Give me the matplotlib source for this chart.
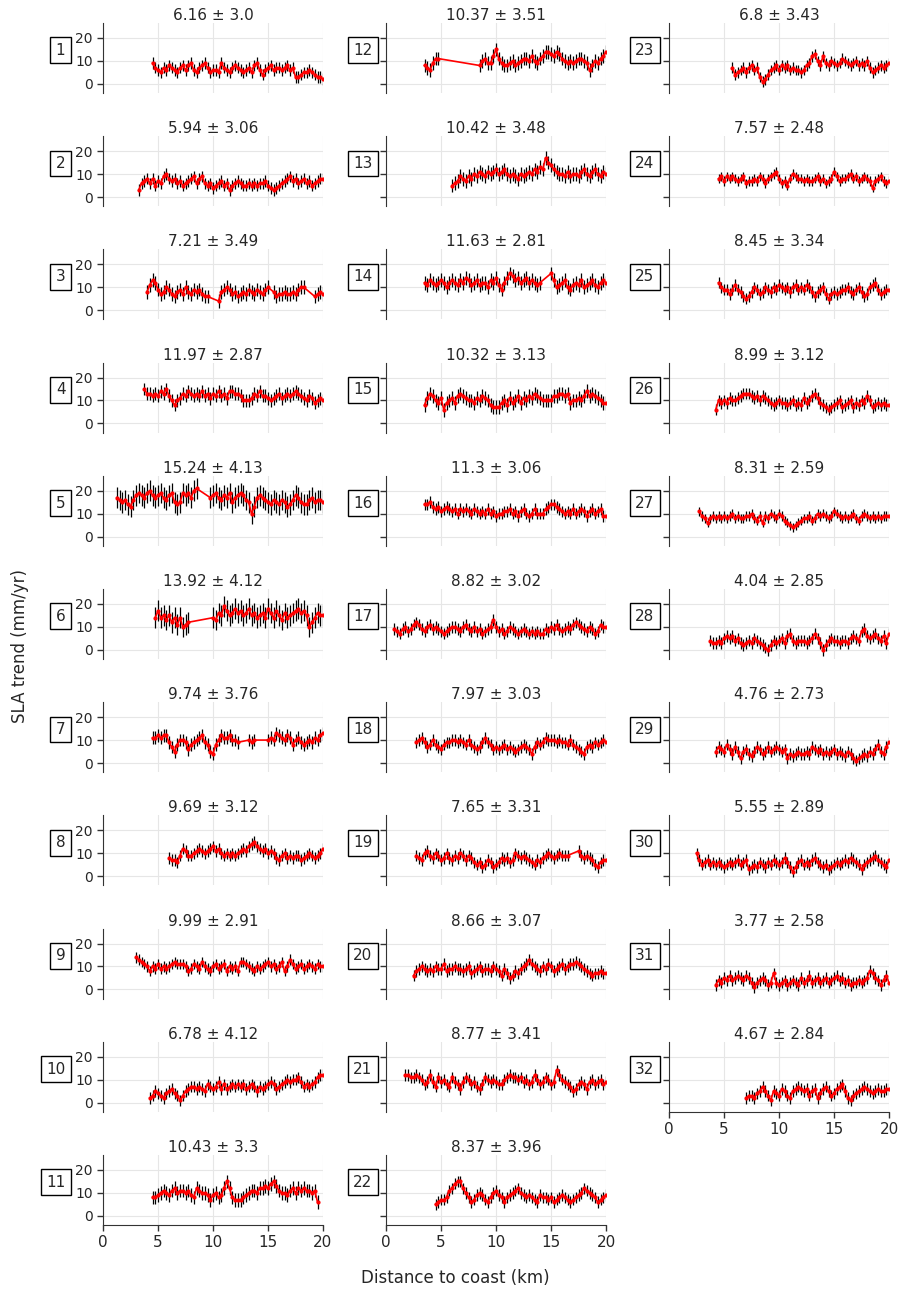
import numpy as np
import matplotlib
matplotlib.use('Agg')
import matplotlib.pyplot as plt

STEP = 0.25  # along-track spacing of the trend estimates (km)

# SLA trend profiles per track: runs of (first distance, values every STEP km)
runs_01 = [(4.5, [9, 7, 6, 5, 7, 6, 8, 7, 6, 5, 7, 8, 6, 8, 9, 6, 5, 7, 8, 9,
                  7, 5, 6, 6, 5, 9, 7, 6, 5, 7, 8, 7, 6, 5, 6, 7, 5, 8, 9, 6,
                  4, 6, 7, 8, 6, 7, 7, 6, 7, 8, 6, 7, 3, 3, 4, 5, 5, 6, 5, 4,
                  3, 3, 2])]
runs_02 = [(3.25, [3, 6, 7, 8, 6, 8, 5, 7, 6, 9, 10, 8, 7, 8, 6, 7, 5, 6, 7, 8,
                   9, 6, 8, 9, 6, 5, 6, 4, 5, 6, 7, 5, 6, 3, 5, 6, 7, 6, 5, 5,
                   6, 5, 6, 5, 6, 6, 7, 5, 4, 3, 4, 5, 6, 7, 8, 9, 7, 8, 6, 7,
                   8, 6, 7, 5, 6, 7, 8, 8])]
runs_03 = [(4.0, [8, 11, 13, 12, 9, 7, 8, 10, 9, 7, 6, 8, 9, 7, 10, 8, 7, 9, 8, 9,
                  7, 6, 6]),
           (10.5, [4, 8, 9, 10, 9, 7, 8, 6, 7, 8, 7, 9, 8, 7, 9, 8, 7, 9, 10]),
           (15.5, [8, 6, 7, 7, 8, 7, 7, 8, 7, 9, 10, 10]),
           (19.25, [6, 7, 8, 7])]
runs_04 = [(3.75, [15, 13, 13, 12, 13, 12, 14, 13, 15, 12, 10, 8, 10, 11, 13, 12,
                   14, 13, 12, 13, 12, 14, 12, 13, 11, 13, 12, 14, 12, 13, 11, 14,
                   14, 13, 13, 12, 10, 10, 10, 11, 13, 12, 14, 12, 12, 11, 10, 11,
                   12, 13, 11, 12, 13, 12, 13, 14, 13, 12, 11, 10, 12, 11, 9, 10,
                   11, 10])]
runs_05 = [(1.25, [17, 16, 15, 16, 14, 13, 16, 18, 19, 18, 17, 19, 20, 18, 17, 18,
                   19, 17, 16, 18, 19, 15, 14, 15, 19, 18, 19, 17, 20, 21]),
           (9.75, [17, 18, 19, 17, 16, 18, 17, 19, 15, 17, 18, 19, 18, 16, 15, 10,
                   13, 17, 18, 17, 16, 15, 14, 16, 15, 14, 16, 15, 13, 14, 16, 18,
                   17, 15, 14, 14, 16, 17, 15, 16, 16, 15])]
runs_06 = [(4.75, [14, 17, 14, 15, 13, 15, 12, 14, 11, 14, 10, 11, 12]),
           (10.0, [14, 13, 16, 15, 19, 17, 15, 16, 18, 16, 17, 15, 16, 18, 15, 16,
                   14, 15, 16, 14, 18, 16, 14, 17, 15, 13, 16, 14, 15, 16, 17, 18,
                   16, 17, 15, 10, 12, 14, 16, 15, 15])]
runs_07 = [(4.5, [11, 11, 12, 11, 12, 12, 9, 7, 5, 8, 10, 10, 9, 6, 8, 9, 10, 11,
                  12, 9, 8, 5, 4, 8, 10, 12, 11, 11, 12, 10, 10, 9]),
           (13.25, [10, 9, 10]),
           (15.0, [10, 11, 10, 13, 12, 11, 10, 12, 11, 8, 10, 11, 9, 8, 9, 10, 9,
                   11, 10, 12, 13])]
runs_08 = [(6.0, [8, 7, 7, 6, 9, 12, 11, 9, 9, 10, 11, 12, 11, 10, 11, 12, 13, 11,
                  12, 10, 9, 10, 9, 10, 9, 10, 11, 12, 11, 13, 14, 15, 13, 12, 11,
                  12, 10, 11, 10, 8, 7, 9, 10, 8, 9, 8, 9, 9, 7, 8, 9, 10, 9, 8, 9,
                  10, 12])]
runs_09 = [(3.0, [14, 13, 12, 11, 10, 8, 10, 9, 11, 9, 10, 9, 10, 11, 12, 11, 11,
                  11, 10, 8, 9, 11, 10, 9, 12, 10, 9, 8, 10, 11, 9, 10, 11, 8, 10,
                  9, 10, 8, 12, 12, 11, 10, 9, 8, 10, 9, 10, 11, 12, 10, 11, 9, 10,
                  12, 8, 10, 13, 11, 9, 10, 11, 9, 10, 11, 10, 9, 11, 10, 10])]
runs_10 = [(4.25, [2, 3, 5, 4, 3, 2, 4, 5, 6, 4, 3, 1, 3, 5, 6, 7, 7, 6, 7, 6, 5,
                   8, 7, 6, 7, 9, 6, 8, 6, 7, 8, 7, 8, 7, 8, 6, 7, 8, 7, 5, 7, 6,
                   7, 8, 9, 8, 6, 7, 8, 9, 10, 9, 10, 10, 11, 9, 7, 8, 7, 8, 9, 11,
                   12, 12])]
runs_11 = [(4.5, [8, 8, 9, 10, 11, 10, 9, 11, 12, 10, 11, 11, 10, 11, 9, 8, 12,
                  11, 10, 10, 9, 7, 9, 10, 8, 9, 12, 15, 12, 8, 7, 7, 7, 8, 9, 10,
                  11, 11, 10, 12, 12, 13, 12, 14, 15, 13, 11, 10, 10, 9, 11, 12, 10,
                  12, 11, 12, 11, 11, 10, 11, 6])]
runs_12 = [(3.5, [8, 7, 6, 9, 11, 11]),
           (8.5, [8, 10, 11, 9, 9, 12, 15, 11, 9, 8, 8, 9, 10, 8, 9, 10, 11, 11,
                  10, 12, 10, 9, 11, 12, 14, 14, 13, 12, 14, 13, 11, 10, 9, 10, 9,
                  10, 11, 11, 10, 9, 6, 8, 10, 9, 11, 12, 14])]
runs_13 = [(6.0, [5, 6, 7, 9, 8, 7, 9, 8, 10, 9, 11, 10, 9, 11, 10, 11, 12, 10, 11,
                  12, 10, 9, 10, 9, 8, 10, 9, 10, 11, 10, 12, 11, 13, 12, 17, 15,
                  14, 12, 11, 10, 10, 9, 11, 9, 10, 10, 9, 11, 12, 10, 9, 11, 12,
                  10, 9, 11, 10])]
runs_14 = [(3.5, [12, 11, 13, 12, 11, 12, 13, 12, 10, 12, 13, 12, 11, 13, 12, 14,
                  13, 11, 12, 13, 11, 12, 12, 10, 13, 12, 14, 11, 9, 12, 14, 16, 15,
                  13, 14, 12, 13, 14, 12, 13, 12, 11, 12]),
           (15.0, [16, 13, 10, 11, 12, 13, 10, 9, 11, 12, 11, 13, 10, 11, 12, 13,
                   11, 10, 12, 13, 12])]
runs_15 = [(3.5, [8, 11, 13, 12, 10, 9, 11, 6, 9, 10, 11, 9, 12, 13, 12, 11, 10,
                  10, 9, 11, 10, 12, 11, 10, 8, 7, 7, 7, 9, 10, 8, 11, 9, 10, 12, 9,
                  11, 10, 12, 11, 13, 12, 11, 10, 10, 10, 10, 12, 12, 13, 13, 12,
                  13, 9, 10, 10, 11, 10, 12, 14, 12, 13, 12, 11, 10, 9, 9])]
runs_16 = [(3.5, [14, 14, 15, 13, 12, 13, 11, 12, 13, 12, 11, 12, 10, 12, 11, 12,
                  11, 10, 12, 11, 10, 11, 10, 12, 10, 11, 9, 10, 10, 11, 11, 12, 10,
                  11, 9, 11, 12, 10, 9, 10, 12, 10, 10, 10, 12, 13, 14, 14, 13, 12,
                  11, 10, 11, 10, 12, 10, 11, 12, 11, 9, 11, 12, 10, 11, 12, 9, 9])]
runs_17 = [(0.75, [9, 8, 7, 9, 10, 8, 9, 11, 12, 11, 9, 8, 10, 11, 9, 10, 9, 8, 7,
                   8, 9, 10, 10, 9, 8, 10, 11, 9, 8, 10, 8, 9, 7, 8, 9, 10, 13, 10,
                   8, 9, 7, 8, 10, 9, 8, 7, 8, 9, 8, 7, 8, 7, 8, 7, 7, 9, 8, 10, 9,
                   11, 9, 8, 9, 10, 9, 11, 12, 11, 10, 9, 8, 10, 9, 7, 8, 11, 10,
                   10])]
runs_18 = [(2.75, [9, 10, 11, 9, 7, 8, 10, 8, 7, 6, 8, 9, 9, 10, 10, 9, 10, 9, 8,
                   10, 8, 7, 6, 7, 9, 11, 9, 8, 6, 7, 6, 7, 8, 6, 7, 6, 5, 6, 7, 8,
                   7, 6, 4, 7, 9, 8, 9, 11, 10, 10, 10, 9, 10, 9, 9, 8, 10, 8, 7, 6,
                   5, 4, 7, 8, 7, 9, 8, 9, 10, 9])]
runs_19 = [(2.75, [9, 8, 7, 10, 11, 9, 8, 10, 9, 7, 8, 10, 8, 7, 9, 8, 10, 9, 7,
                   9, 8, 6, 5, 6, 4, 5, 7, 6, 4, 5, 6, 8, 7, 8, 6, 7, 10, 9, 8, 9,
                   8, 7, 6, 5, 7, 6, 8, 9, 10, 9, 8, 9, 10, 9, 9, 9]),
           (17.5, [11, 9, 8, 9, 8, 7, 5, 4, 6, 7, 7])]
runs_20 = [(2.5, [6, 8, 9, 10, 9, 8, 9, 8, 10, 9, 9, 11, 8, 9, 9, 10, 9, 9, 8, 9,
                  10, 7, 8, 9, 10, 8, 9, 9, 8, 10, 9, 8, 6, 9, 7, 5, 6, 8, 7, 9,
                  10, 11, 13, 11, 10, 9, 8, 10, 9, 11, 10, 8, 9, 10, 11, 9, 10, 11,
                  11, 12, 11, 10, 9, 8, 7, 6, 7, 7, 8, 7, 7])]
runs_21 = [(1.75, [12, 12, 11, 11, 12, 11, 10, 8, 9, 12, 9, 7, 11, 9, 10, 8, 7,
                   11, 9, 8, 6, 9, 11, 10, 8, 9, 7, 6, 8, 11, 10, 9, 10, 9, 8, 8,
                   10, 11, 12, 11, 11, 10, 11, 9, 10, 8, 9, 12, 10, 8, 9, 11, 10, 8,
                   9, 14, 12, 10, 9, 8, 7, 5, 6, 8, 9, 8, 6, 9, 10, 8, 9, 10, 8,
                   9])]
runs_22 = [(4.5, [5, 6, 7, 7, 8, 11, 12, 14, 15, 15, 12, 10, 8, 6, 7, 9, 10, 9, 7,
                  6, 8, 10, 11, 9, 8, 6, 8, 9, 10, 11, 12, 10, 9, 8, 9, 8, 7, 6, 9,
                  8, 8, 7, 8, 6, 7, 8, 9, 8, 7, 6, 7, 8, 9, 10, 12, 11, 10, 9, 8,
                  6, 7, 8, 9])]
runs_23 = [(5.75, [7, 4, 5, 6, 7, 5, 7, 8, 6, 7, 3, 1, 2, 4, 6, 7, 8, 6, 8, 7, 8,
                   6, 7, 6, 6, 5, 6, 8, 9, 12, 13, 10, 8, 12, 9, 8, 10, 9, 8, 9,
                   11, 10, 9, 8, 9, 10, 8, 9, 8, 10, 7, 5, 6, 7, 8, 7, 8, 9])]
runs_24 = [(4.5, [8, 9, 7, 9, 8, 9, 8, 7, 8, 9, 6, 7, 7, 8, 7, 9, 8, 6, 8, 9, 10,
                  11, 8, 6, 7, 5, 8, 10, 9, 8, 8, 7, 8, 7, 7, 8, 9, 7, 8, 6, 7, 8,
                  11, 9, 7, 8, 8, 9, 10, 8, 9, 7, 8, 9, 8, 7, 4, 7, 8, 9, 7, 6,
                  7])]
runs_25 = [(4.5, [12, 10, 9, 9, 7, 9, 11, 9, 8, 6, 5, 6, 8, 10, 9, 7, 8, 10, 9, 8,
                  10, 9, 11, 10, 9, 10, 8, 10, 11, 9, 10, 9, 11, 10, 8, 6, 8, 9,
                  10, 7, 5, 7, 8, 7, 8, 9, 9, 10, 8, 7, 9, 10, 8, 6, 7, 10, 11, 12,
                  9, 7, 8, 9, 9])]
runs_26 = [(4.25, [6, 10, 9, 10, 9, 11, 10, 10, 11, 12, 13, 13, 13, 12, 11, 12, 10,
                   12, 11, 10, 9, 8, 9, 10, 9, 9, 8, 9, 10, 8, 9, 8, 11, 9, 10, 12,
                   13, 11, 9, 8, 7, 6, 7, 8, 9, 10, 7, 8, 9, 10, 7, 9, 8, 10, 9,
                   12, 10, 7, 8, 9, 8, 9, 8, 8])]
runs_27 = [(2.75, [11, 9, 8, 6, 8, 9, 8, 9, 8, 9, 8, 9, 10, 8, 9, 8, 8, 9, 9, 10,
                   8, 7, 9, 6, 9, 8, 10, 9, 8, 10, 9, 7, 6, 5, 4, 5, 6, 7, 8, 8, 9,
                   7, 8, 10, 9, 10, 9, 8, 9, 11, 10, 9, 8, 9, 8, 9, 10, 8, 7, 9,
                   10, 9, 8, 9, 8, 9, 8, 9, 9, 9])]
runs_28 = [(3.75, [4, 3, 3, 4, 3, 5, 6, 5, 6, 4, 5, 3, 2, 3, 4, 3, 5, 4, 3, 2, 1,
                   0, 2, 4, 3, 4, 5, 3, 6, 7, 4, 3, 4, 4, 4, 3, 4, 5, 7, 5, 3, 0,
                   2, 4, 5, 4, 4, 3, 4, 4, 3, 5, 6, 5, 4, 8, 9, 6, 5, 6, 7, 5, 4,
                   6, 3, 7])]
runs_29 = [(4.25, [5, 7, 6, 5, 8, 6, 4, 7, 5, 2, 5, 6, 4, 3, 5, 7, 6, 4, 5, 7, 5,
                   6, 7, 6, 5, 6, 2, 4, 3, 4, 5, 4, 4, 5, 4, 7, 6, 5, 6, 4, 5, 4,
                   5, 6, 4, 5, 4, 3, 5, 4, 2, 1, 2, 3, 4, 3, 5, 4, 6, 8, 5, 4, 7,
                   9])]
runs_30 = [(2.5, [10, 7, 5, 6, 7, 5, 6, 5, 6, 5, 4, 5, 6, 5, 6, 7, 5, 6, 7, 3, 4,
                  5, 4, 6, 5, 4, 6, 5, 7, 6, 5, 6, 8, 6, 4, 2, 4, 6, 7, 5, 6, 5, 7,
                  8, 6, 5, 4, 5, 3, 4, 5, 6, 5, 6, 7, 6, 8, 7, 6, 5, 3, 5, 6, 7, 8,
                  9, 7, 6, 5, 4, 7])]
runs_31 = [(4.25, [2, 4, 3, 5, 4, 6, 4, 5, 6, 5, 4, 6, 5, 3, 1, 3, 4, 5, 4, 2, 3,
                   7, 3, 2, 3, 4, 2, 3, 4, 3, 2, 5, 3, 4, 6, 3, 4, 5, 3, 4, 5, 3,
                   4, 5, 6, 4, 5, 3, 4, 2, 3, 3, 4, 3, 4, 5, 8, 7, 5, 4, 2, 4, 6,
                   3])]
runs_32 = [(7.0, [2, 3, 3, 2, 4, 5, 7, 5, 3, 1, 5, 4, 3, 6, 5, 3, 2, 5, 6, 7, 6,
                  5, 6, 3, 5, 6, 2, 4, 6, 7, 5, 3, 4, 6, 7, 8, 5, 2, 1, 3, 4, 5, 6,
                  7, 6, 5, 4, 5, 6, 5, 5, 6, 6])]

tracks = [runs_01, runs_02, runs_03, runs_04, runs_05, runs_06, runs_07, runs_08,
          runs_09, runs_10, runs_11, runs_12, runs_13, runs_14, runs_15, runs_16,
          runs_17, runs_18, runs_19, runs_20, runs_21, runs_22, runs_23, runs_24,
          runs_25, runs_26, runs_27, runs_28, runs_29, runs_30, runs_31, runs_32]

# per-track summary shown in the panel titles
trend_mean = [6.16, 5.94, 7.21, 11.97, 15.24, 13.92, 9.74, 9.69, 9.99, 6.78, 10.43,
              10.37, 10.42, 11.63, 10.32, 11.3, 8.82, 7.97, 7.65, 8.66, 8.77, 8.37,
              6.8, 7.57, 8.45, 8.99, 8.31, 4.04, 4.76, 5.55, 3.77, 4.67]
trend_sd = [3.0, 3.06, 3.49, 2.87, 4.13, 4.12, 3.76, 3.12, 2.91, 4.12, 3.3,
            3.51, 3.48, 2.81, 3.13, 3.06, 3.02, 3.03, 3.31, 3.07, 3.41, 3.96,
            3.43, 2.48, 3.34, 3.12, 2.59, 2.85, 2.73, 2.89, 2.58, 2.84]
# half-width of the trend uncertainty bars
err_half = [2.5, 2.5, 3.0, 2.8, 4.5, 4.5, 2.8, 2.5, 2.3, 2.5, 3.0,
            3.0, 3.0, 3.0, 3.0, 2.5, 2.5, 2.5, 2.5, 2.5, 2.5, 2.5,
            2.3, 2.0, 2.5, 2.5, 2.0, 2.5, 2.5, 2.5, 2.5, 2.5]

W, H = 901.0, 1292.0
col_left = [103, 386, 669]
label_x = [-0.171, -0.062, -0.066]

fig = plt.figure(figsize=(W / 100, H / 100), dpi=100)

for k, runs in enumerate(tracks):
    col, row = divmod(k, 11)
    top = 23 + row * 113.2
    ax = fig.add_axes([col_left[col] / W, 1 - (top + 70) / H, 220 / W, 70 / H])

    x = np.concatenate([x0 + STEP * np.arange(len(v)) for x0, v in runs])
    y = np.concatenate([np.asarray(v, dtype=float) for x0, v in runs])

    ax.errorbar(x, y, yerr=err_half[k], fmt='none', ecolor='black',
                elinewidth=0.9, zorder=2)
    ax.plot(x, y, color='red', lw=1.2, marker='o', ms=2, zorder=3)

    ax.set_xlim(0, 20)
    ax.set_ylim(-4, 26.5)
    ax.set_xticks([0, 5, 10, 15, 20])
    ax.set_yticks([0, 10, 20])
    ax.grid(True, color='#e6e6e6', lw=0.8)
    ax.set_axisbelow(True)
    for s in ['top', 'right']:
        ax.spines[s].set_visible(False)
    ax.spines['left'].set_color('#333333')
    ax.spines['bottom'].set_color('#333333')

    ax.tick_params(axis='y', length=4, width=1, color='#333333',
                   labelsize=10, labelcolor='#262626', labelleft=(col == 0))
    bottom = (row == 10) or (col == 2 and row == 9)
    if bottom:
        ax.tick_params(axis='x', length=4, width=1, color='#333333',
                       labelsize=11, labelcolor='#262626')
    else:
        ax.spines['bottom'].set_visible(False)
        ax.tick_params(axis='x', length=0, labelbottom=False)

    ax.set_title(f'{trend_mean[k]} \u00b1 {trend_sd[k]}', fontsize=11,
                 color='#262626', pad=0.5)
    ax.text(label_x[col], 0.61, str(k + 1), transform=ax.transAxes,
            ha='right', va='center', fontsize=11, color='#262626',
            bbox=dict(boxstyle='square,pad=0.35', fc='white', ec='black', lw=1))

fig.text(0.022, 0.5, 'SLA trend (mm/yr)', rotation=90, ha='center',
         va='center', fontsize=12, color='#262626')
fig.text(0.505, 1 - 1278 / H, 'Distance to coast (km)', ha='center',
         va='center', fontsize=12, color='#262626')

fig.savefig('out.png', dpi=100)
